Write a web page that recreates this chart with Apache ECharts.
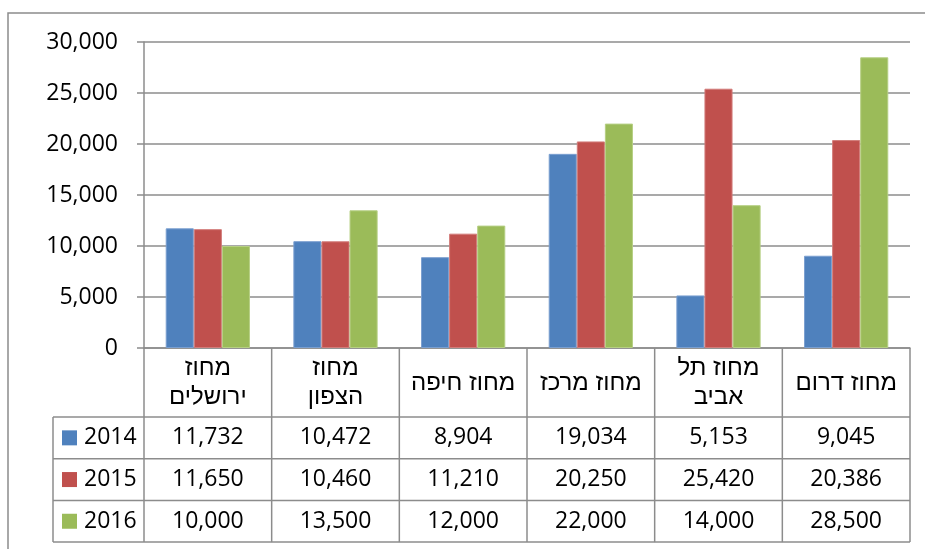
<!DOCTYPE html>
<html>
<head>
<meta charset="utf-8">
<script src="https://cdn.jsdelivr.net/npm/echarts@6/dist/echarts.min.js"></script>
<style>
  html, body { margin: 0; padding: 0; background: #fff; }
  #c { width: 925px; height: 549px; }
</style>
</head>
<body>
<div id="c"></div>
<script>
// District names (line breaks as wrapped in the header cells)
const districts = ['מחוז\nירושלים', 'מחוז\nהצפון', 'מחוז חיפה', 'מחוז מרכז', 'מחוז תל\nאביב', 'מחוז דרום'];
const years = ['2014', '2015', '2016'];
const v2014 = [11732, 10472, 8904, 19034, 5153, 9045];
const v2015 = [11650, 10460, 11210, 20250, 25420, 20386];
const v2016 = [10000, 13500, 12000, 22000, 14000, 28500];
const yMin = 0, yMax = 30000, yStep = 5000;

const seriesValues = [v2014, v2015, v2016];
const colors = ['#4F81BD', '#C0504D', '#9BBB59'];
const edgeColors = ['#7a9fd0', '#d27c7a', '#b6cf83'];
const FONT = '"Open Sans", "DejaVu Sans", sans-serif';
const HEB_FONT = '"Liberation Sans", "DejaVu Sans", sans-serif';
const FS = 23;
const GRAY = '#8c8c8c';
const fmt = v => v.toLocaleString('en-US');

const chart = echarts.init(document.getElementById('c'));

const option = {
  animation: false,
  backgroundColor: '#fff',
  textStyle: { fontFamily: FONT },
  grid: { left: 144, right: 15, top: 42, bottom: 201, containLabel: false },
  xAxis: {
    type: 'category',
    data: districts,
    axisLine: { show: true, lineStyle: { color: GRAY, width: 1.5 } },
    axisTick: { show: false },
    axisLabel: {
      fontSize: 24, color: '#000', fontFamily: HEB_FONT,
      lineHeight: 29, verticalAlign: 'middle', margin: 35, interval: 0
    }
  },
  yAxis: {
    type: 'value',
    min: yMin, max: yMax, interval: yStep,
    axisLine: { show: true, lineStyle: { color: GRAY, width: 1.5 } },
    axisTick: { show: true, length: 7, lineStyle: { color: GRAY, width: 1.5 } },
    splitLine: { show: true, lineStyle: { color: GRAY, width: 1.5 } },
    axisLabel: { fontSize: FS, color: '#000', fontFamily: FONT, margin: 26, formatter: v => fmt(v) }
  },
  series: years.map((y, i) => ({
    name: y,
    type: 'bar',
    data: seriesValues[i],
    barGap: '0%',
    barCategoryGap: '34%',
    itemStyle: { color: colors[i], borderColor: edgeColors[i], borderWidth: 1 }
  }))
};

chart.setOption(option);

// Data table under the plot, aligned to the category axis bands
function buildTable() {
  const n = districts.length;
  const c0 = chart.convertToPixel({ xAxisIndex: 0 }, 0);
  const c1 = chart.convertToPixel({ xAxisIndex: 0 }, 1);
  const band = c1 - c0;
  const left = c0 - band / 2;
  const right = left + band * n;
  const y0 = chart.convertToPixel({ yAxisIndex: 0 }, 0);
  const headH = 69, rowH = 41.7, legendLeft = 53;
  const top = y0 + headH;
  const bottom = top + rowH * years.length;
  const els = [];
  const line = (x1, y1, x2, y2) => els.push({
    type: 'line', z: 10,
    shape: { x1, y1, x2, y2 },
    style: { stroke: GRAY, lineWidth: 1.5 }
  });

  // outer frame of the chart area
  els.push({ type: 'rect', z: 10, shape: { x: 8, y: 13, width: 1000, height: 1000 },
    style: { fill: null, stroke: GRAY, lineWidth: 1.5 } });

  for (let i = 0; i <= n; i++) {
    const x = left + band * i;
    line(x, y0, x, bottom);
  }
  line(legendLeft, top, legendLeft, bottom);
  for (let r = 0; r <= years.length; r++) {
    const y = top + rowH * r;
    line(legendLeft, y, right, y);
  }

  years.forEach((yr, r) => {
    const cy = top + rowH * (r + 0.5);
    els.push({ type: 'rect', z: 11, shape: { x: 62, y: cy - 7.5, width: 15, height: 15 },
      style: { fill: colors[r] } });
    els.push({ type: 'text', z: 11,
      style: { text: yr, x: 84, y: cy, align: 'left', verticalAlign: 'middle',
        fontSize: FS, fontFamily: FONT, fill: '#000' } });
    seriesValues[r].forEach((v, i) => {
      els.push({ type: 'text', z: 11,
        style: { text: fmt(v), x: left + band * (i + 0.5), y: cy, align: 'center', verticalAlign: 'middle',
          fontSize: FS, fontFamily: FONT, fill: '#000' } });
    });
  });

  chart.setOption({ graphic: { elements: els } });
}
buildTable();
</script>
</body>
</html>
